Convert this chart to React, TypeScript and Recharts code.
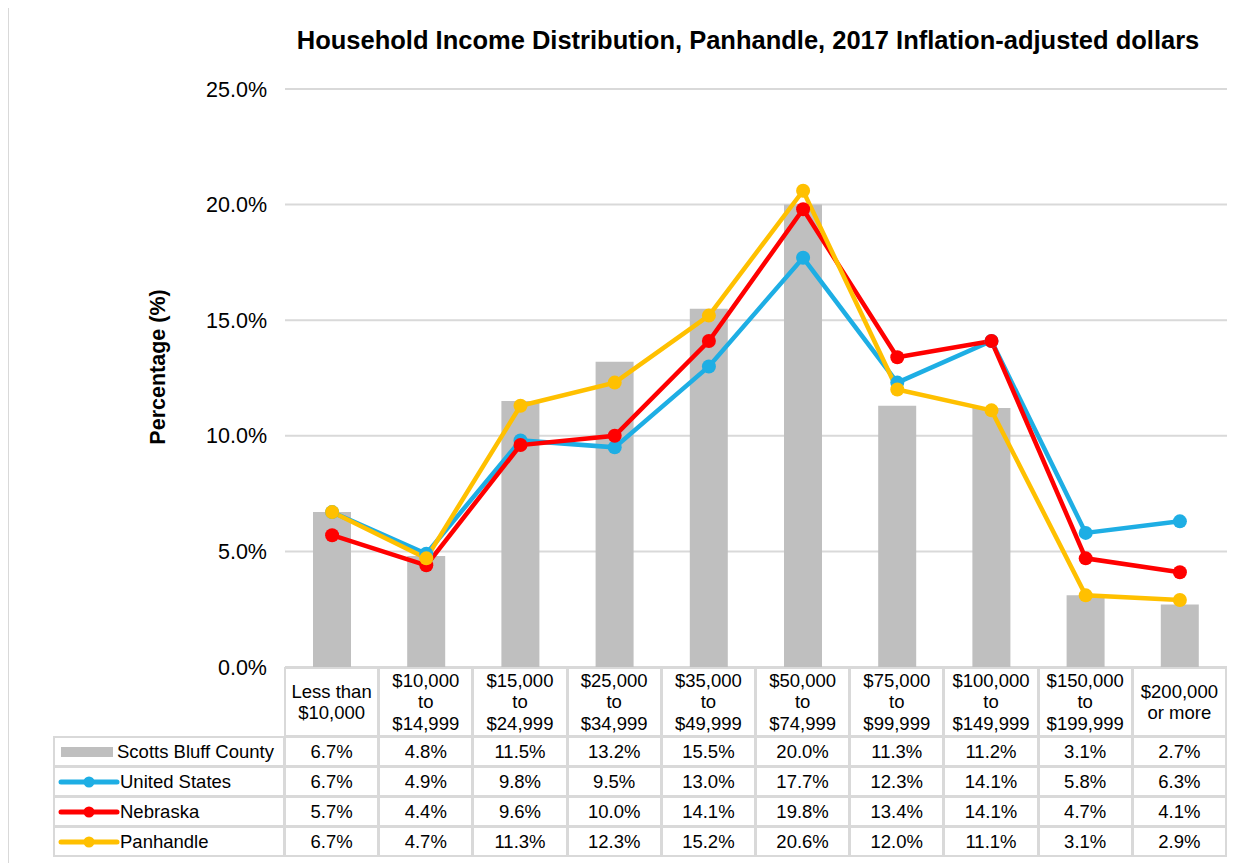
import React from "react";
import { ComposedChart, Bar, Line, XAxis, YAxis, CartesianGrid } from "recharts";

const categories = [
  "Less than\n$10,000",
  "$10,000\nto\n$14,999",
  "$15,000\nto\n$24,999",
  "$25,000\nto\n$34,999",
  "$35,000\nto\n$49,999",
  "$50,000\nto\n$74,999",
  "$75,000\nto\n$99,999",
  "$100,000\nto\n$149,999",
  "$150,000\nto\n$199,999",
  "$200,000\nor more",
];
const scottsBluff = [6.7, 4.8, 11.5, 13.2, 15.5, 20.0, 11.3, 11.2, 3.1, 2.7];
const unitedStates = [6.7, 4.9, 9.8, 9.5, 13.0, 17.7, 12.3, 14.1, 5.8, 6.3];
const nebraska = [5.7, 4.4, 9.6, 10.0, 14.1, 19.8, 13.4, 14.1, 4.7, 4.1];
const panhandle = [6.7, 4.7, 11.3, 12.3, 15.2, 20.6, 12.0, 11.1, 3.1, 2.9];
const yTicks = [0, 5, 10, 15, 20, 25];

const series = [
  { key: "scotts", name: "Scotts Bluff County", values: scottsBluff, color: "#BFBFBF", kind: "bar" },
  { key: "us", name: "United States", values: unitedStates, color: "#1EAEE4", kind: "line" },
  { key: "ne", name: "Nebraska", values: nebraska, color: "#FF0000", kind: "line" },
  { key: "pan", name: "Panhandle", values: panhandle, color: "#FFC000", kind: "line" },
];

const data = categories.map((c, i) => ({
  cat: c,
  scotts: scottsBluff[i],
  us: unitedStates[i],
  ne: nebraska[i],
  pan: panhandle[i],
}));

const W = 1244;
const H = 857;
const PLOT_L = 277;
const PLOT_R = 1219;
const PLOT_T = 83;
const PLOT_B = 661;
const COL_W = (PLOT_R - PLOT_L) / categories.length;
const LEG_L = 46;
const HEAD_H = 69;
const ROW_H = 30;
const GRID = "#D9D9D9";
const FONT = "'Liberation Sans', Arial, sans-serif";

function Cell({ x, y, w, h, children, align = "center" }: any) {
  return (
    <div
      style={{
        position: "absolute",
        left: x,
        top: y,
        width: w,
        height: h,
        boxSizing: "border-box",
        border: `2px solid ${GRID}`,
        marginLeft: -1,
        marginTop: -1,
        display: "flex",
        alignItems: "center",
        justifyContent: align === "left" ? "flex-start" : "center",
        textAlign: "center",
        whiteSpace: "pre-line",
        lineHeight: "21.5px",
        fontSize: 18.5,
        color: "#000",
      }}
    >
      {children}
    </div>
  );
}

function LegendKey({ s }: any) {
  if (s.kind === "bar") {
    return <div style={{ width: 52, height: 10, background: s.color, marginLeft: 6, marginRight: 4 }} />;
  }
  return (
    <svg width={62} height={14} style={{ marginLeft: 3 }}>
      <line x1={3} y1={7} x2={59} y2={7} stroke={s.color} strokeWidth={5} strokeLinecap="round" />
      <circle cx={31} cy={7} r={5.5} fill={s.color} />
    </svg>
  );
}

export default function App() {
  const tableTop = PLOT_B + 1;
  return (
    <div style={{ position: "relative", width: W, height: H, marginTop: -2, overflow: "hidden", fontFamily: FONT }}>
      <div
        style={{
          position: "absolute",
          left: -1,
          top: 0,
          width: W + 20,
          height: H + 20,
          boxSizing: "border-box",
          border: `2px solid ${GRID}`,
        }}
      />
      <ComposedChart
        width={W}
        height={H}
        data={data}
        margin={{ top: PLOT_T, right: W - PLOT_R, bottom: H - PLOT_B, left: PLOT_L - 80 }}
        style={{ position: "absolute", left: 0, top: 0 }}
      >
        <CartesianGrid vertical={false} stroke={GRID} strokeWidth={2} />
        <XAxis dataKey="cat" hide />
        <YAxis
          width={80}
          domain={[0, 25]}
          ticks={yTicks}
          tickFormatter={(v: number) => `${v.toFixed(1)}%`}
          axisLine={false}
          tickLine={false}
          tickSize={0}
          tickMargin={18}
          tick={{ fontSize: 21.5, fill: "#000", fontFamily: FONT }}
        />
        <Bar dataKey="scotts" fill="#BFBFBF" barSize={38} isAnimationActive={false} />
        {series
          .filter((s) => s.kind === "line")
          .map((s) => (
            <Line
              key={s.key}
              dataKey={s.key}
              stroke={s.color}
              strokeWidth={4.5}
              dot={{ r: 7, fill: s.color, stroke: s.color, strokeWidth: 0 }}
              isAnimationActive={false}
            />
          ))}
      </ComposedChart>

      <div
        style={{
          position: "absolute",
          left: 0,
          width: 1480,
          top: 19,
          textAlign: "center",
          fontSize: 25.5,
          fontWeight: "bold",
          lineHeight: "30px",
        }}
      >
        Household Income Distribution, Panhandle, 2017 Inflation-adjusted dollars
      </div>
      <div
        style={{
          position: "absolute",
          left: 150,
          top: 361,
          transform: "translate(-50%, -50%) rotate(-90deg)",
          fontSize: 21.5,
          fontWeight: "bold",
          whiteSpace: "nowrap",
        }}
      >
        Percentage (%)
      </div>

      {categories.map((c, i) => (
        <Cell key={c} x={PLOT_L + i * COL_W} y={tableTop} w={COL_W + 1} h={HEAD_H + 1}>
          {c}
        </Cell>
      ))}
      {series.map((s, r) => (
        <React.Fragment key={s.key}>
          <Cell x={LEG_L} y={tableTop + HEAD_H + r * ROW_H} w={PLOT_L - LEG_L + 1} h={ROW_H + 1} align="left">
            <LegendKey s={s} />
            <span>{s.name}</span>
          </Cell>
          {s.values.map((v, i) => (
            <Cell key={i} x={PLOT_L + i * COL_W} y={tableTop + HEAD_H + r * ROW_H} w={COL_W + 1} h={ROW_H + 1}>
              {`${v.toFixed(1)}%`}
            </Cell>
          ))}
        </React.Fragment>
      ))}
    </div>
  );
}
